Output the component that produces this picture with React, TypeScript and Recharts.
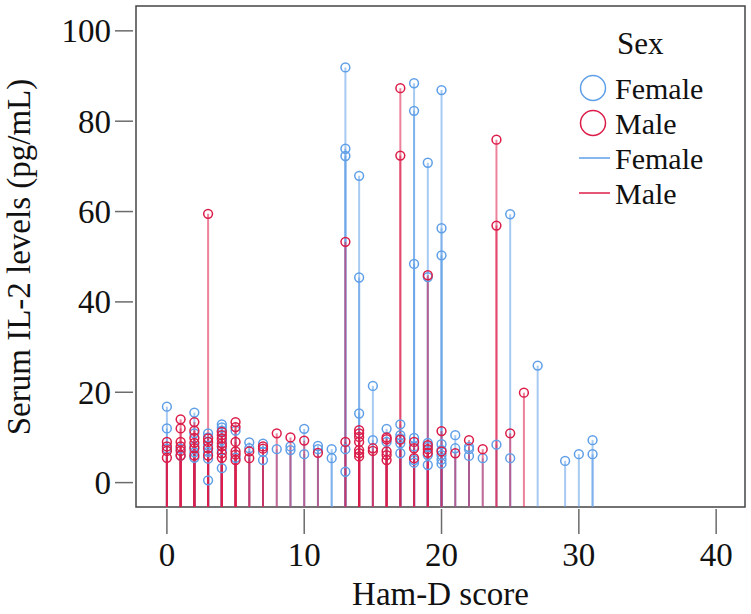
import { ScatterChart, Scatter, XAxis, YAxis, ErrorBar, ReferenceArea } from "recharts";

const FONT = '"Liberation Serif", "Times New Roman", serif';
const FEMALE = "#5f9fe8";
const MALE = "#dc1c48";

const xTicks = [0, 10, 20, 30, 40];
const yTicks = [0, 20, 40, 60, 80, 100];
const xDomain: [number, number] = [-2.25, 42.1];
const yDomain: [number, number] = [-5.4, 105.5];

// [Ham-D score, IL-2 levels at that score]
const female: [number, number[]][] = [
  [0, [16.8, 12.0, 7.5]],
  [1, [7.5, 6.0]],
  [2, [15.5, 10.9, 8.0, 6.7, 5.5]],
  [3, [10.9, 10.0, 8.2, 6.8, 5.3, 0.5]],
  [4, [12.9, 12.2, 11.5, 9.4, 7.2, 3.2]],
  [5, [11.5, 5.5]],
  [6, [8.9, 7.6]],
  [7, [8.6, 6.8, 5.0]],
  [8, [7.4]],
  [9, [8.0, 7.2]],
  [10, [11.9, 6.3]],
  [11, [8.1, 7.4]],
  [12, [7.4, 5.4]],
  [13, [91.9, 73.9, 72.3, 7.4, 2.4]],
  [14, [67.9, 45.4, 15.3]],
  [15, [21.4, 9.4]],
  [16, [11.9, 9.0]],
  [17, [12.9, 10.5, 9.8, 8.7, 6.5]],
  [18, [88.4, 82.3, 48.4, 9.9, 8.0, 5.0, 4.4]],
  [19, [70.8, 45.5, 8.8, 7.9, 6.1, 3.9]],
  [20, [86.9, 56.3, 50.3, 8.5, 7.2, 6.1, 5.1, 4.2]],
  [21, [10.5, 7.6]],
  [22, [7.9, 7.4, 5.9]],
  [23, [5.4]],
  [24, [8.4]],
  [25, [59.4, 5.4]],
  [27, [25.9]],
  [29, [4.8]],
  [30, [6.3]],
  [31, [9.4, 6.3]],
];

const male: [number, number[]][] = [
  [0, [9.0, 8.0, 7.0, 5.5]],
  [1, [14.0, 12.0, 9.0, 8.0, 7.0, 6.0]],
  [2, [13.4, 11.5, 9.9, 8.8, 7.6, 6.0]],
  [3, [59.5, 9.8, 9.0, 7.6, 6.0]],
  [4, [11.2, 10.5, 9.8, 8.7, 8.0, 6.5, 5.5]],
  [5, [13.4, 12.3, 9.0, 6.9, 6.2, 5.0]],
  [6, [6.9, 5.4]],
  [7, [8.0, 7.5]],
  [8, [10.9]],
  [9, [10.0]],
  [10, [9.3]],
  [11, [6.6]],
  [13, [53.3, 9.0]],
  [14, [11.6, 10.9, 10.1, 9.0, 7.2, 6.5, 5.8]],
  [15, [7.6, 7.0]],
  [16, [10.0, 9.6, 6.9, 6.1, 5.0]],
  [17, [87.3, 72.4, 9.5]],
  [18, [9.0, 7.6, 5.4]],
  [19, [45.9, 8.3, 7.4, 6.6]],
  [20, [11.4, 6.9]],
  [21, [6.5]],
  [22, [9.4]],
  [23, [7.4]],
  [24, [75.9, 56.9]],
  [25, [10.9]],
  [26, [19.9]],
];

const legendRows = [
  { label: "Female", color: FEMALE, kind: "circle" },
  { label: "Male", color: MALE, kind: "circle" },
  { label: "Female", color: FEMALE, kind: "line" },
  { label: "Male", color: MALE, kind: "line" },
];

const toPoints = (groups: [number, number[]][]) =>
  groups.flatMap(([score, levels]) =>
    levels.map((level) => ({ score, level, drop: [level - yDomain[0], 0] }))
  );

const femaleData = toPoints(female);
const maleData = toPoints(male);

const ring = (color: string) => (props: any) => (
  <circle cx={props.cx} cy={props.cy} r={4.4} fill="none" stroke={color} strokeWidth={1.5} />
);

function XTick({ x, y, payload }: any) {
  return (
    <g>
      <line x1={x} x2={x} y1={y + 2} y2={y + 27} stroke="#6b6b6b" strokeWidth={1.5} />
      <text x={x} y={y + 59} textAnchor="middle" fontFamily={FONT} fontSize={33} fill="#111">
        {payload.value}
      </text>
    </g>
  );
}

function YTick({ x, y, payload }: any) {
  return (
    <g>
      <line x1={x - 3} x2={x - 21} y1={y} y2={y} stroke="#6b6b6b" strokeWidth={1.5} />
      <text x={x - 25} y={y} dy="0.35em" textAnchor="end" fontFamily={FONT} fontSize={33} fill="#111">
        {payload.value}
      </text>
    </g>
  );
}

function SexLegend() {
  return (
    <svg width={160} height={200} style={{ position: "absolute", left: 579, top: 20, overflow: "visible" }}>
      <text x={38} y={34} fontFamily={FONT} fontSize={31} fill="#111">Sex</text>
      {legendRows.map((r, i) => {
        const cy = 68 + i * 35;
        return (
          <g key={i}>
            {r.kind === "circle" ? (
              <circle cx={14} cy={cy} r={12.5} fill="none" stroke={r.color} strokeWidth={1.5} />
            ) : (
              <line x1={0} x2={31} y1={cy} y2={cy} stroke={r.color} strokeWidth={1.5} />
            )}
            <text x={36} y={cy} dy="0.35em" fontFamily={FONT} fontSize={30} fill="#111">
              {r.label}
            </text>
          </g>
        );
      })}
    </svg>
  );
}

export default function App() {
  return (
    <div style={{ position: "absolute", left: 0, top: 0, width: 751, height: 614, background: "#fff" }}>
      <ScatterChart width={751} height={614} margin={{ top: 6, right: 6, bottom: 0, left: 0 }}>
        <XAxis
          type="number"
          dataKey="score"
          domain={xDomain}
          ticks={xTicks}
          allowDataOverflow
          height={107}
          tickSize={0}
          tickMargin={0}
          axisLine={false}
          tickLine={false}
          tick={<XTick />}
          label={{ value: "Ham-D score", position: "insideBottom", offset: 9, fontFamily: FONT, fontSize: 33, fill: "#111" }}
        />
        <YAxis
          type="number"
          dataKey="level"
          domain={yDomain}
          ticks={yTicks}
          allowDataOverflow
          width={136}
          tickSize={0}
          tickMargin={0}
          axisLine={false}
          tickLine={false}
          tick={<YTick />}
          label={{
            content: () => (
              <text transform="translate(30,257) rotate(-90)" textAnchor="middle" fontFamily={FONT} fontSize={33} fill="#111">
                Serum IL-2 levels (pg/mL)
              </text>
            ),
          }}
        />
        <ReferenceArea
          x1={xDomain[0]}
          x2={xDomain[1]}
          y1={yDomain[0]}
          y2={yDomain[1]}
          fill="none"
          stroke="#444"
          strokeWidth={1.5}
          fillOpacity={0}
        />
        <Scatter name="Female" data={femaleData} shape={ring(FEMALE)} isAnimationActive={false}>
          <ErrorBar dataKey="drop" direction="y" width={0} stroke="rgba(95,159,232,0.55)" strokeWidth={2} isAnimationActive={false} />
        </Scatter>
        <Scatter name="Male" data={maleData} shape={ring(MALE)} isAnimationActive={false}>
          <ErrorBar dataKey="drop" direction="y" width={0} stroke="rgba(220,28,72,0.55)" strokeWidth={2} isAnimationActive={false} />
        </Scatter>
      </ScatterChart>
      <SexLegend />
    </div>
  );
}
